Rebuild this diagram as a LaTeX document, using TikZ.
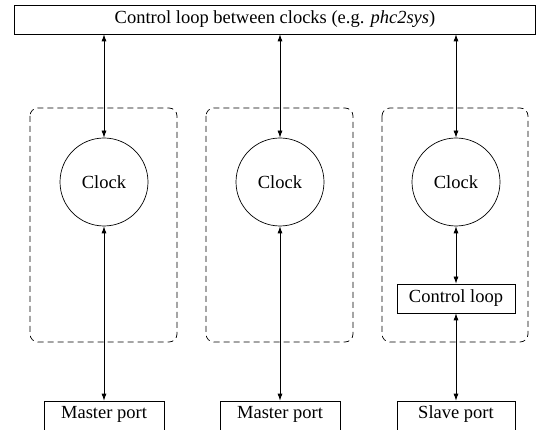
\documentclass[tikz,border=0pt]{standalone}
\usepackage{fontspec}
\setmainfont{Liberation Serif}
\usetikzlibrary{arrows.meta}
\begin{document}
\begin{tikzpicture}[x=1pt,y=-1pt,
  every node/.style={font=\fontsize{18.5}{21}\selectfont, inner sep=0pt},
  box/.style={draw, line width=0.7pt, rectangle},
  clk/.style={draw, line width=0.7pt, circle, minimum size=88pt},
  group/.style={draw, line width=0.7pt, dash pattern=on 6pt off 4pt, rounded corners=8pt},
  link/.style={line width=0.7pt, {Latex[length=7pt,width=5pt]}-{Latex[length=7pt,width=5pt]}}]
\useasboundingbox (0,0) rectangle (549,430);
\clip (0,0) rectangle (549,430);

% shared control loop across all clocks
\node[box, minimum width=521pt, minimum height=29pt] (top) at (275,19.5)
  {Control loop between clocks (e.g. \textit{phc2sys})};

% dashed groups
\draw[group] (30,108) rectangle (177,342);
\draw[group] (206,108) rectangle (353,342);
\draw[group] (382,108) rectangle (528,342);

% clocks
\node[clk] (c1) at (104,182) {Clock};
\node[clk] (c2) at (280,182) {Clock};
\node[clk] (c3) at (456,182) {Clock};

% servo of the slave
\node[box, minimum width=118pt, minimum height=29pt] (cl) at (456,298.5) {Control loop};

% ports (their lower edges run past the bottom of the picture)
\node[box, minimum width=120pt, minimum height=40pt] (p1) at (104,421) {};
\node[box, minimum width=120pt, minimum height=40pt] (p2) at (280,421) {};
\node[box, minimum width=118pt, minimum height=40pt] (p3) at (456,421) {};
\node at (104,414) {Master port};
\node at (280,414) {Master port};
\node at (456,414) {Slave port};

% links
\draw[link] (top.south -| c1) -- (c1.north);
\draw[link] (top.south -| c2) -- (c2.north);
\draw[link] (top.south -| c3) -- (c3.north);
\draw[link] (c1.south) -- (p1.north);
\draw[link] (c2.south) -- (p2.north);
\draw[link] (c3.south) -- (cl.north);
\draw[link] (cl.south) -- (p3.north);
\end{tikzpicture}
\end{document}
